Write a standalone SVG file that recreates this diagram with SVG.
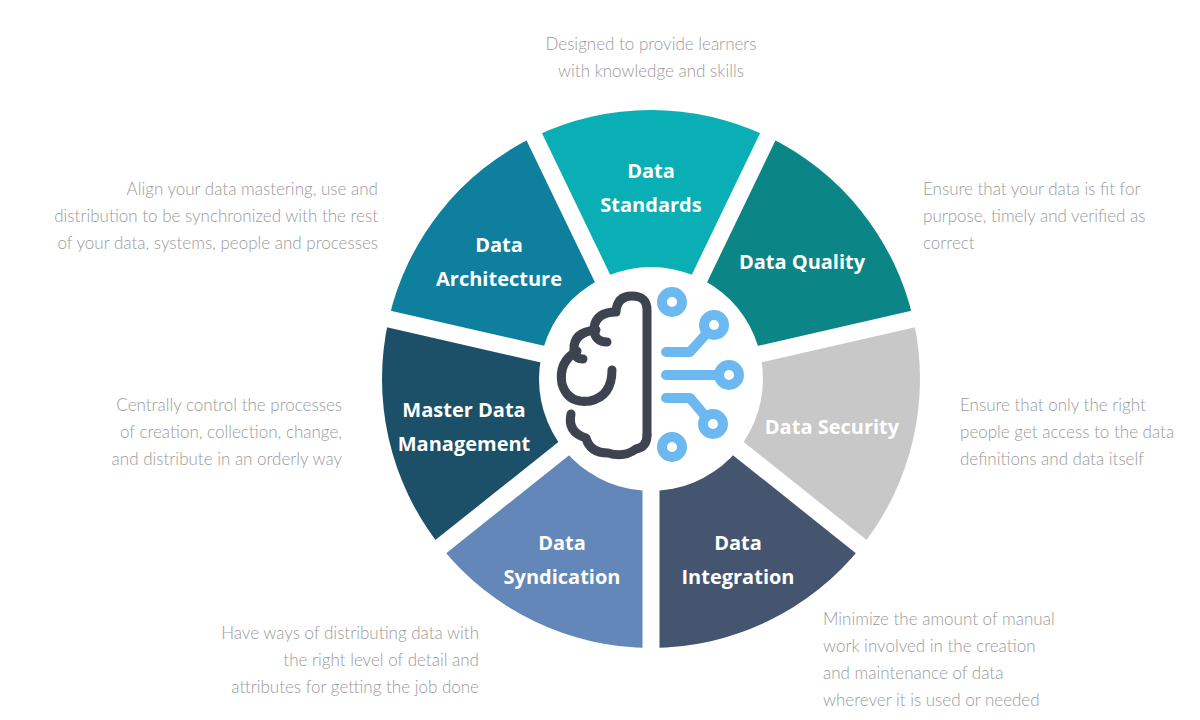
<svg xmlns="http://www.w3.org/2000/svg" width="1200" height="720" viewBox="0 0 1200 720">
<style>
.lbl{font-family:"Open Sans",sans-serif;font-weight:bold;font-size:20px;fill:#fff;text-anchor:middle}
.d{font-family:Lato,"Open Sans",sans-serif;font-weight:300;font-size:17px;fill:#9a9a9a}
.gap{stroke:#fff;stroke-width:17}
.br{fill:none;stroke:#3d4450;stroke-width:9;stroke-linecap:round;stroke-linejoin:round}
.ci{fill:none;stroke:#6cb9f2;stroke-width:10;stroke-linecap:round;stroke-linejoin:round}
</style>
<rect width="1200" height="720" fill="#fff"/>
<g id="node-standards"><path d="M651 379 L534.3 136.6 A269 269 0 0 1 767.7 136.6 Z" fill="#0aafb5"/><text class="lbl" x="651" y="178">Data</text><text class="lbl" x="651" y="212">Standards</text></g>
<g id="node-quality"><path d="M651 379 L767.7 136.6 A269 269 0 0 1 913.2 318.9 Z" fill="#0b8585"/><text class="lbl" x="802" y="269">Data Quality</text></g>
<g id="node-security"><path d="M651 379 L913.2 318.9 A269 269 0 0 1 861.2 546.8 Z" fill="#c8c8c8"/><text class="lbl" x="832" y="434">Data Security</text></g>
<g id="node-integration"><path d="M651 379 L861.2 546.8 A269 269 0 0 1 651 648 Z" fill="#45546f"/><text class="lbl" x="738" y="550">Data</text><text class="lbl" x="738" y="584">Integration</text></g>
<g id="node-syndication"><path d="M651 379 L651 648 A269 269 0 0 1 440.8 546.8 Z" fill="#6287b8"/><text class="lbl" x="562" y="550">Data</text><text class="lbl" x="562" y="584">Syndication</text></g>
<g id="node-mdm"><path d="M651 379 L440.8 546.8 A269 269 0 0 1 388.8 318.9 Z" fill="#1b5068"/><text class="lbl" x="464" y="417">Master Data</text><text class="lbl" x="464" y="451">Management</text></g>
<g id="node-architecture"><path d="M651 379 L388.8 318.9 A269 269 0 0 1 534.3 136.6 Z" fill="#0e7f9d"/><text class="lbl" x="499" y="252">Data</text><text class="lbl" x="499" y="286">Architecture</text></g>
<g id="connectors">
<line class="gap" x1="651" y1="379" x2="530" y2="128"/>
<line class="gap" x1="651" y1="379" x2="772" y2="128"/>
<line class="gap" x1="651" y1="379" x2="922" y2="317"/>
<line class="gap" x1="651" y1="379" x2="868" y2="552"/>
<line class="gap" x1="651" y1="379" x2="651" y2="658"/>
<line class="gap" x1="651" y1="379" x2="434" y2="552"/>
<line class="gap" x1="651" y1="379" x2="380" y2="317"/>
</g>
<g id="node-center">
<circle cx="651" cy="379" r="112" fill="#fff"/>
<path class="br" d="M647 435 L647 310 Q647 296 632 296 Q617 296 616 312 Q596 312 594 328 Q594 342 607 342"/>
<path class="br" d="M596 330 Q573 332 574 350 Q575 359 583 359"/>
<path class="br" d="M577 351 Q558 362 562 384 Q568 404 590 401 Q612 396 612 370"/>
<path class="br" d="M571 414 Q567 432 586 438 Q590 453 608 453 Q624 458 636 449 Q647 447 647 435"/>
<path class="ci" d="M666 352 L690 352 L707 333 M666 375 L718 375 M666 398 L690 398 L706 417"/>
<circle class="ci" cx="672" cy="302" r="10"/>
<circle class="ci" cx="714" cy="325" r="10"/>
<circle class="ci" cx="729" cy="375" r="10"/>
<circle class="ci" cx="713" cy="424" r="10"/>
<circle class="ci" cx="672" cy="447" r="10"/>
</g>
<g id="descriptions">
<text class="d" text-anchor="middle" x="651" y="50">Designed to provide learners</text>
<text class="d" text-anchor="middle" x="651" y="77">with knowledge and skills</text>
<text class="d" text-anchor="end" x="378" y="195">Align your data mastering, use and</text>
<text class="d" text-anchor="end" x="378" y="222">distribution to be synchronized with the rest</text>
<text class="d" text-anchor="end" x="378" y="249">of your data, systems, people and processes</text>
<text class="d" x="923" y="195">Ensure that your data is fit for</text>
<text class="d" x="923" y="222">purpose, timely and verified as</text>
<text class="d" x="923" y="249">correct</text>
<text class="d" text-anchor="end" x="342" y="411">Centrally control the processes</text>
<text class="d" text-anchor="end" x="342" y="438">of creation, collection, change,</text>
<text class="d" text-anchor="end" x="342" y="465">and distribute in an orderly way</text>
<text class="d" x="960" y="411">Ensure that only the right</text>
<text class="d" x="960" y="438">people get access to the data</text>
<text class="d" x="960" y="465">definitions and data itself</text>
<text class="d" text-anchor="end" x="479" y="639">Have ways of distributing data with</text>
<text class="d" text-anchor="end" x="479" y="666">the right level of detail and</text>
<text class="d" text-anchor="end" x="479" y="693">attributes for getting the job done</text>
<text class="d" x="823" y="625">Minimize the amount of manual</text>
<text class="d" x="823" y="652">work involved in the creation</text>
<text class="d" x="823" y="679">and maintenance of data</text>
<text class="d" x="823" y="706">wherever it is used or needed</text>
</g>
</svg>
